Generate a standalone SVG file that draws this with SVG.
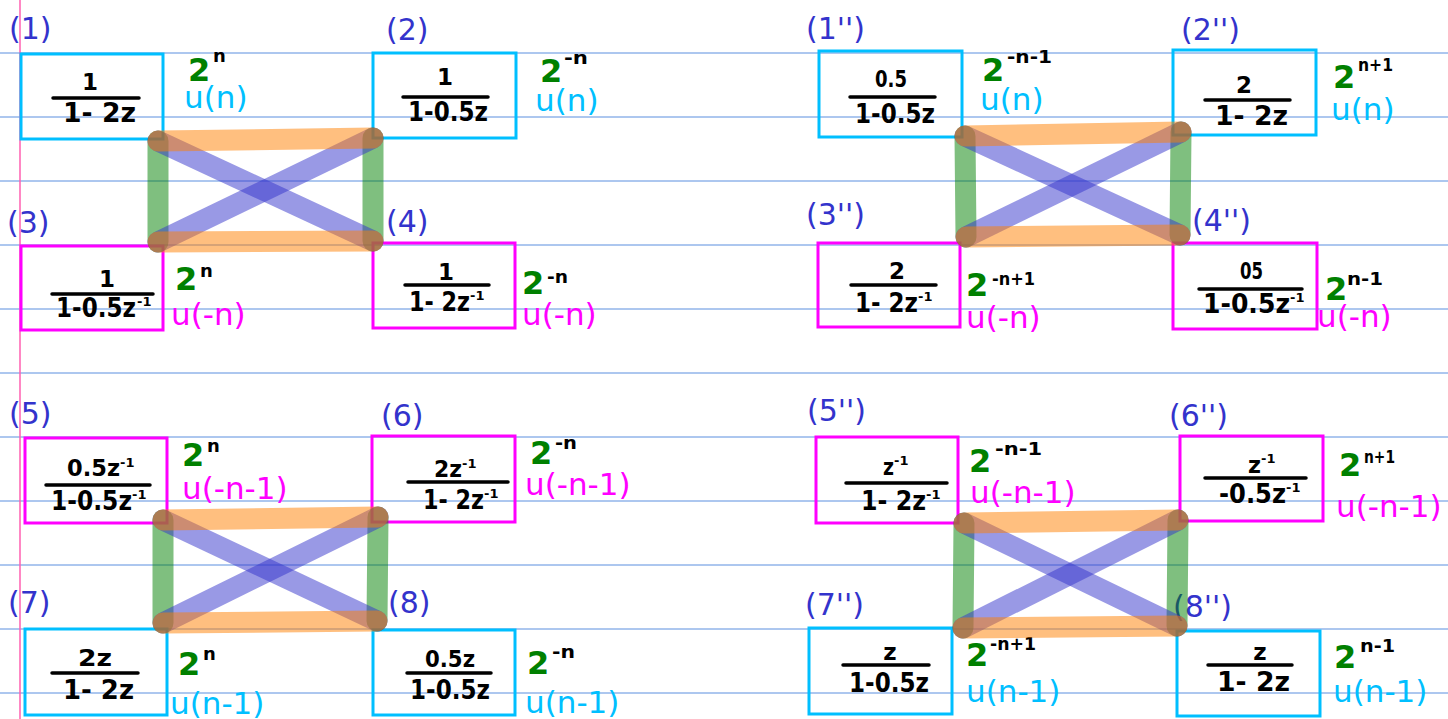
<svg xmlns="http://www.w3.org/2000/svg" width="1448" height="719" viewBox="0 0 1448 719">
<style>
.rule{stroke:#5b8fdf;stroke-width:1}
.margin{stroke:#ff5fb0;stroke-width:1.5}
.box{fill:none;stroke-width:3}
.cy{stroke:#00bfff}
.mg{stroke:#ff00ff}
.lbl{font-family:"DejaVu Sans",sans-serif;font-size:30px;fill:#3333cc}
.u{font-family:"DejaVu Sans",sans-serif;font-size:31px}
.ucy{fill:#00bfff}
.umg{fill:#ff00ff}
.two{font-family:"DejaVu Sans",sans-serif;font-weight:bold;font-size:32px;fill:#008000}
.sup{font-family:"DejaVu Sans",sans-serif;font-weight:bold;font-size:18px;fill:#000}
.fr{font-family:"DejaVu Sans",sans-serif;font-weight:bold;font-size:26px;fill:#000}
.frn{font-family:"DejaVu Sans",sans-serif;font-weight:bold;font-size:23px;fill:#000}
.frs{font-size:13px}
.bar{stroke:#000;stroke-width:3.5;stroke-linecap:round}
.c{fill:none;stroke-width:21;stroke-linecap:round}
.or{stroke:#ff8000;stroke-opacity:0.5}
.gr{stroke:#008000;stroke-opacity:0.5}
.bl{stroke:#3333cc;stroke-opacity:0.5}
</style>
<rect x="0" y="0" width="1448" height="719" fill="#ffffff"/>
<g id="rules">
<line class="rule" x1="0" y1="53" x2="1448" y2="53"/>
<line class="rule" x1="0" y1="117" x2="1448" y2="117"/>
<line class="rule" x1="0" y1="181" x2="1448" y2="181"/>
<line class="rule" x1="0" y1="245" x2="1448" y2="245"/>
<line class="rule" x1="0" y1="309" x2="1448" y2="309"/>
<line class="rule" x1="0" y1="373" x2="1448" y2="373"/>
<line class="rule" x1="0" y1="437" x2="1448" y2="437"/>
<line class="rule" x1="0" y1="501" x2="1448" y2="501"/>
<line class="rule" x1="0" y1="565" x2="1448" y2="565"/>
<line class="rule" x1="0" y1="629" x2="1448" y2="629"/>
<line class="rule" x1="0" y1="693" x2="1448" y2="693"/>
<line class="margin" x1="20" y1="0" x2="20" y2="719"/>
</g>

<g id="node-1">
<rect class="box cy" x="21" y="54" width="142" height="85"/>
<text class="lbl" x="9" y="39">(1)</text>
<text class="frn" x="90" y="90" text-anchor="middle">1</text>
<line class="bar" x1="53" y1="98" x2="139" y2="98"/>
<text class="fr" x="63" y="122" textLength="73" lengthAdjust="spacingAndGlyphs">1- 2z</text>
<text class="two" x="188" y="81">2<tspan class="sup" x="213" y="62">n</tspan></text>
<text class="u ucy" x="184" y="108">u(n)</text>
</g>

<g id="node-2">
<rect class="box cy" x="373" y="53" width="143" height="85"/>
<text class="lbl" x="386" y="40">(2)</text>
<text class="frn" x="445" y="85" text-anchor="middle">1</text>
<line class="bar" x1="403" y1="97" x2="488" y2="97"/>
<text class="fr" x="408" y="121" textLength="80" lengthAdjust="spacingAndGlyphs">1-0.5z</text>
<text class="two" x="540" y="82">2<tspan class="sup" x="564" y="64" textLength="24" lengthAdjust="spacingAndGlyphs">-n</tspan></text>
<text class="u ucy" x="535" y="111">u(n)</text>
</g>

<g id="node-3">
<rect class="box mg" x="21" y="246" width="142" height="84"/>
<text class="lbl" x="7" y="233">(3)</text>
<text class="frn" x="107" y="287" text-anchor="middle">1</text>
<line class="bar" x1="52" y1="294" x2="153" y2="294"/>
<text class="fr" x="56" y="317"><tspan textLength="80" lengthAdjust="spacingAndGlyphs">1-0.5z</tspan><tspan class="frs" x="137" y="306">-1</tspan></text>
<text class="two" x="175" y="290">2<tspan class="sup" x="200" y="277">n</tspan></text>
<text class="u umg" x="171" y="325">u(-n)</text>
</g>

<g id="node-4">
<rect class="box mg" x="373" y="243" width="142" height="85"/>
<text class="lbl" x="386" y="232">(4)</text>
<text class="frn" x="446" y="280" text-anchor="middle">1</text>
<line class="bar" x1="405" y1="285" x2="489" y2="285"/>
<text class="fr" x="409" y="311"><tspan textLength="61" lengthAdjust="spacingAndGlyphs">1- 2z</tspan><tspan class="frs" x="470" y="300">-1</tspan></text>
<text class="two" x="522" y="294">2<tspan class="sup" x="547" y="283" textLength="21" lengthAdjust="spacingAndGlyphs">-n</tspan></text>
<text class="u umg" x="522" y="325">u(-n)</text>
</g>

<g id="node-1pp">
<rect class="box cy" x="819" y="51" width="143" height="86"/>
<text class="lbl" x="806" y="39">(1'')</text>
<text class="frn" x="875" y="87" textLength="32" lengthAdjust="spacingAndGlyphs">0.5</text>
<line class="bar" x1="850" y1="97" x2="935" y2="97"/>
<text class="fr" x="855" y="123" textLength="80" lengthAdjust="spacingAndGlyphs">1-0.5z</text>
<text class="two" x="982" y="81">2<tspan class="sup" x="1007" y="63" textLength="45" lengthAdjust="spacingAndGlyphs">-n-1</tspan></text>
<text class="u ucy" x="980" y="110">u(n)</text>
</g>

<g id="node-2pp">
<rect class="box cy" x="1173" y="50" width="143" height="85"/>
<text class="lbl" x="1181" y="40">(2'')</text>
<text class="frn" x="1244" y="93" text-anchor="middle">2</text>
<line class="bar" x1="1205" y1="100" x2="1290" y2="100"/>
<text class="fr" x="1215" y="125" textLength="73" lengthAdjust="spacingAndGlyphs">1- 2z</text>
<text class="two" x="1333" y="88">2<tspan class="sup" x="1358" y="71" textLength="35" lengthAdjust="spacingAndGlyphs">n+1</tspan></text>
<text class="u ucy" x="1331" y="120">u(n)</text>
</g>

<g id="node-3pp">
<rect class="box mg" x="818" y="243" width="142" height="84"/>
<text class="lbl" x="806" y="225">(3'')</text>
<text class="frn" x="897" y="279" text-anchor="middle">2</text>
<line class="bar" x1="851" y1="285" x2="936" y2="285"/>
<text class="fr" x="855" y="312"><tspan textLength="63" lengthAdjust="spacingAndGlyphs">1- 2z</tspan><tspan class="frs" x="918" y="301">-1</tspan></text>
<text class="two" x="966" y="296">2<tspan class="sup" x="992" y="285" textLength="43" lengthAdjust="spacingAndGlyphs">-n+1</tspan></text>
<text class="u umg" x="966" y="328">u(-n)</text>
</g>

<g id="node-4pp">
<rect class="box mg" x="1173" y="243" width="144" height="86"/>
<text class="lbl" x="1192" y="231">(4'')</text>
<text class="frn" x="1240" y="279" textLength="23" lengthAdjust="spacingAndGlyphs">05</text>
<line class="bar" x1="1199" y1="289" x2="1302" y2="289"/>
<text class="fr" x="1203" y="313"><tspan textLength="87" lengthAdjust="spacingAndGlyphs">1-0.5z</tspan><tspan class="frs" x="1290" y="302">-1</tspan></text>
<text class="two" x="1325" y="300">2<tspan class="sup" x="1347" y="285" textLength="36" lengthAdjust="spacingAndGlyphs">n-1</tspan></text>
<text class="u umg" x="1317" y="327">u(-n)</text>
</g>

<g id="node-5">
<rect class="box mg" x="25" y="438" width="142" height="85"/>
<text class="lbl" x="9" y="424">(5)</text>
<text class="frn" x="67" y="476"><tspan textLength="53" lengthAdjust="spacingAndGlyphs">0.5z</tspan><tspan class="frs" x="120" y="467">-1</tspan></text>
<line class="bar" x1="46" y1="485" x2="150" y2="485"/>
<text class="fr" x="51" y="510"><tspan textLength="81" lengthAdjust="spacingAndGlyphs">1-0.5z</tspan><tspan class="frs" x="132" y="499">-1</tspan></text>
<text class="two" x="182" y="466">2<tspan class="sup" x="207" y="452">n</tspan></text>
<text class="u umg" x="182" y="499">u(-n-1)</text>
</g>

<g id="node-6">
<rect class="box mg" x="372" y="436" width="143" height="86"/>
<text class="lbl" x="381" y="426">(6)</text>
<text class="frn" x="434" y="477"><tspan textLength="28" lengthAdjust="spacingAndGlyphs">2z</tspan><tspan class="frs" x="462" y="468">-1</tspan></text>
<line class="bar" x1="408" y1="482" x2="508" y2="482"/>
<text class="fr" x="423" y="509"><tspan textLength="61" lengthAdjust="spacingAndGlyphs">1- 2z</tspan><tspan class="frs" x="484" y="498">-1</tspan></text>
<text class="two" x="530" y="464">2<tspan class="sup" x="555" y="449" textLength="22" lengthAdjust="spacingAndGlyphs">-n</tspan></text>
<text class="u umg" x="525" y="495">u(-n-1)</text>
</g>

<g id="node-7">
<rect class="box cy" x="25" y="629" width="142" height="86"/>
<text class="lbl" x="8" y="613">(7)</text>
<text class="frn" x="78" y="666" textLength="34" lengthAdjust="spacingAndGlyphs">2z</text>
<line class="bar" x1="52" y1="673" x2="138" y2="673"/>
<text class="fr" x="63" y="699" textLength="71" lengthAdjust="spacingAndGlyphs">1- 2z</text>
<text class="two" x="178" y="675">2<tspan class="sup" x="203" y="660">n</tspan></text>
<text class="u ucy" x="170" y="714">u(n-1)</text>
</g>

<g id="node-8">
<rect class="box cy" x="373" y="630" width="142" height="85"/>
<text class="lbl" x="388" y="613">(8)</text>
<text class="frn" x="425" y="667" textLength="50" lengthAdjust="spacingAndGlyphs">0.5z</text>
<line class="bar" x1="407" y1="673" x2="491" y2="673"/>
<text class="fr" x="410" y="699" textLength="80" lengthAdjust="spacingAndGlyphs">1-0.5z</text>
<text class="two" x="527" y="674">2<tspan class="sup" x="552" y="658" textLength="23" lengthAdjust="spacingAndGlyphs">-n</tspan></text>
<text class="u ucy" x="525" y="713">u(n-1)</text>
</g>

<g id="node-5pp">
<rect class="box mg" x="816" y="437" width="142" height="86"/>
<text class="lbl" x="807" y="421">(5'')</text>
<text class="frn" x="883" y="475"><tspan textLength="11" lengthAdjust="spacingAndGlyphs">z</tspan><tspan class="frs" x="894" y="465">-1</tspan></text>
<line class="bar" x1="846" y1="483" x2="947" y2="483"/>
<text class="fr" x="861" y="510"><tspan textLength="65" lengthAdjust="spacingAndGlyphs">1- 2z</tspan><tspan class="frs" x="926" y="499">-1</tspan></text>
<text class="two" x="969" y="472">2<tspan class="sup" x="995" y="455" textLength="47" lengthAdjust="spacingAndGlyphs">-n-1</tspan></text>
<text class="u umg" x="970" y="503">u(-n-1)</text>
</g>

<g id="node-6pp">
<rect class="box mg" x="1180" y="436" width="143" height="85"/>
<text class="lbl" x="1169" y="426">(6'')</text>
<text class="frn" x="1248" y="473"><tspan textLength="13" lengthAdjust="spacingAndGlyphs">z</tspan><tspan class="frs" x="1261" y="463">-1</tspan></text>
<line class="bar" x1="1205" y1="478" x2="1306" y2="478"/>
<text class="fr" x="1219" y="503"><tspan textLength="67" lengthAdjust="spacingAndGlyphs">-0.5z</tspan><tspan class="frs" x="1286" y="492">-1</tspan></text>
<text class="two" x="1339" y="476">2<tspan class="sup" x="1364" y="463" textLength="31" lengthAdjust="spacingAndGlyphs">n+1</tspan></text>
<text class="u umg" x="1336" y="517">u(-n-1)</text>
</g>

<g id="node-7pp">
<rect class="box cy" x="809" y="628" width="143" height="86"/>
<text class="lbl" x="805" y="615">(7'')</text>
<text class="frn" x="890" y="660" text-anchor="middle">z</text>
<line class="bar" x1="843" y1="665" x2="929" y2="665"/>
<text class="fr" x="849" y="692" textLength="80" lengthAdjust="spacingAndGlyphs">1-0.5z</text>
<text class="two" x="966" y="666">2<tspan class="sup" x="990" y="650" textLength="46" lengthAdjust="spacingAndGlyphs">-n+1</tspan></text>
<text class="u ucy" x="966" y="702">u(n-1)</text>
</g>

<g id="node-8pp">
<rect class="box cy" x="1177" y="631" width="143" height="85"/>
<text class="lbl" x="1173" y="617">(8'')</text>
<text class="frn" x="1260" y="660" text-anchor="middle">z</text>
<line class="bar" x1="1208" y1="665" x2="1292" y2="665"/>
<text class="fr" x="1217" y="691" textLength="73" lengthAdjust="spacingAndGlyphs">1- 2z</text>
<text class="two" x="1334" y="668">2<tspan class="sup" x="1360" y="652" textLength="35" lengthAdjust="spacingAndGlyphs">n-1</tspan></text>
<text class="u ucy" x="1333" y="702">u(n-1)</text>
</g>

<g id="connectors">
<line class="c gr" x1="158" y1="141" x2="158" y2="242"/>
<line class="c gr" x1="373" y1="138" x2="373" y2="241"/>
<line class="c bl" x1="158" y1="141" x2="373" y2="241"/>
<line class="c bl" x1="373" y1="138" x2="158" y2="242"/>
<line class="c or" x1="158" y1="141" x2="373" y2="138"/>
<line class="c or" x1="158" y1="242" x2="373" y2="241"/>

<line class="c gr" x1="965" y1="136" x2="966" y2="237"/>
<line class="c gr" x1="1181" y1="132" x2="1180" y2="235"/>
<line class="c bl" x1="965" y1="136" x2="1180" y2="235"/>
<line class="c bl" x1="1181" y1="132" x2="966" y2="237"/>
<line class="c or" x1="965" y1="136" x2="1181" y2="132"/>
<line class="c or" x1="966" y1="237" x2="1180" y2="235"/>

<line class="c gr" x1="163" y1="520" x2="163" y2="623"/>
<line class="c gr" x1="378" y1="517" x2="377" y2="621"/>
<line class="c bl" x1="163" y1="520" x2="377" y2="621"/>
<line class="c bl" x1="378" y1="517" x2="163" y2="623"/>
<line class="c or" x1="163" y1="520" x2="378" y2="517"/>
<line class="c or" x1="163" y1="623" x2="377" y2="621"/>

<line class="c gr" x1="964" y1="523" x2="963" y2="628"/>
<line class="c gr" x1="1178" y1="520" x2="1177" y2="626"/>
<line class="c bl" x1="964" y1="523" x2="1177" y2="626"/>
<line class="c bl" x1="1178" y1="520" x2="963" y2="628"/>
<line class="c or" x1="964" y1="523" x2="1178" y2="520"/>
<line class="c or" x1="963" y1="628" x2="1177" y2="626"/>
</g>
</svg>
